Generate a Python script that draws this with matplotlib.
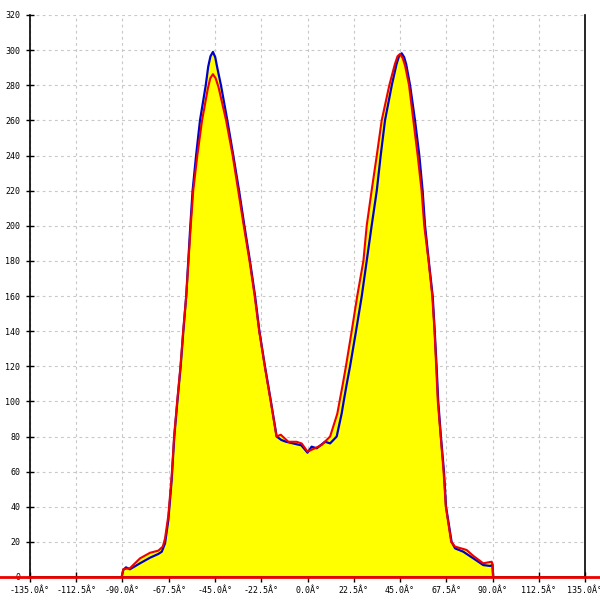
import numpy as np
import matplotlib
matplotlib.use("Agg")
import matplotlib.pyplot as plt

# blue curve (angle in degrees, value)
blue_x = [-90.4, -89.6, -88.3, -86.4, -81.5, -76.6, -72.6, -70.9, -69.3, -67.7, -66.1,
          -64.8, -63.3, -61.7, -60.4, -59.0, -58.0, -57.0, -55.9, -54.2, -52.3, -49.5,
          -48.3, -47.2, -46.0, -44.9, -43.9, -42.1, -39.0, -36.1, -33.3, -30.7, -28.0,
          -25.5, -23.4, -20.7, -17.8, -15.0, -12.7, -10.4, -8.5, -5.0, -3.0, 0.0, 2.0,
          4.5, 8.5, 11.0, 14.2, 16.6, 17.6, 19.1, 20.7, 23.6, 26.4, 28.8, 31.2, 33.7,
          35.6, 37.7, 41.0, 43.3, 44.5, 45.8, 47.0, 48.0, 49.9, 52.3, 54.4, 56.0, 57.2,
          59.0, 60.9, 61.9, 62.8, 63.6, 64.9, 66.4, 67.4, 70.1, 71.8, 75.8, 80.7, 85.5,
          88.8, 90.0, 90.3]
blue_y = [0, 4, 5.5, 4.4, 7.8, 11, 13.1, 14.4, 19.2, 32.5, 55,
          80, 100, 120, 140, 160, 180, 200, 220, 240, 260, 280,
          290.6, 296.5, 299, 296, 290, 280, 260, 240, 220, 200, 180,
          160, 140, 120, 100, 80, 78, 77, 76.5, 75.5, 75, 70.8, 74.2,
          73.3, 77, 76.1, 80, 93, 100, 110, 120, 140, 160, 180, 200, 220,
          240, 260, 280, 292, 296.5, 298.2, 296, 292, 280, 260, 240, 220, 200,
          180, 160, 140, 120, 100, 80, 60, 40, 20, 16.3, 14.4, 10.6, 6.8,
          6.3, 6.8, 0]

# red curve
red_x = [-90.4, -89.6, -86.4, -81.5, -76.6, -72.6, -70.4, -69.3, -67.7, -66.1,
         -64.9, -63.4, -61.8, -60.5, -59.0, -57.9, -56.8, -55.6, -53.6, -51.3, -48.5,
         -47.3, -46.0, -44.7, -43.3, -39.6, -36.4, -33.7, -31.0, -28.2, -25.7, -23.5,
         -20.8, -17.9, -15.1, -13.0, -9.3, -5.3, -2.8, 0.0, 3.6, 6.9, 11.0, 14.5, 15.6,
         17.2, 18.7, 21.5, 24.2, 27.2, 28.8, 31.2, 33.7, 36.1, 39.8, 42.5, 43.8, 45.0,
         46.3, 47.5, 49.4, 51.5, 53.6, 55.5, 56.8, 58.9, 60.7, 61.8, 62.6, 63.4, 64.8,
         66.2, 67.3, 69.9, 71.8, 77.4, 80.7, 85.5, 89.6, 90.0, 90.3]
red_y = [0, 4.5, 5, 10.6, 13.8, 15, 17.3, 22, 35, 57,
         80, 100, 120, 140, 160, 180, 200, 220, 240, 260, 278,
         284, 286.3, 284, 279, 260, 240, 220, 200, 180, 160, 140,
         120, 100, 80, 81, 77, 77, 76, 71.4, 73.3, 75.2, 80, 93, 100,
         110, 120, 140, 160, 180, 200, 220, 240, 260, 280, 292, 296.5, 297.8,
         295.5, 291, 280, 260, 240, 220, 200, 180, 160, 140, 120, 100, 80,
         60, 40, 20, 17.3, 15.4, 12, 7.8, 8.7, 7, 0]

x_ticks = [-135, -112.5, -90, -67.5, -45, -22.5, 0, 22.5, 45, 67.5, 90, 112.5, 135]
y_ticks = list(range(0, 321, 20))

fig = plt.figure(figsize=(6, 6), dpi=100)
ax = fig.add_axes([30 / 600, 23 / 600, 555 / 600, 562 / 600])

# yellow area under the higher of the two curves
xs = np.union1d(blue_x, red_x)
top = np.maximum(np.interp(xs, blue_x, blue_y), np.interp(xs, red_x, red_y))
ax.fill_between(xs, 0, top, color="#ffff00", linewidth=0, zorder=2)

ax.plot(blue_x, blue_y, color="#0000cc", linewidth=1.6, zorder=3,
        solid_joinstyle="round")
ax.plot(red_x, red_y, color="#ee0000", linewidth=1.5, zorder=4,
        solid_joinstyle="round")
# baseline of the red series runs across the whole picture
ax.plot([-0.055, 1.03], [0, 0], color="#ee0000", linewidth=2,
        transform=ax.get_yaxis_transform(), clip_on=False, zorder=5)

ax.set_xlim(-135, 135)
ax.set_ylim(0, 320)
ax.set_xticks(x_ticks)
ax.set_xticklabels([f"{v:.1f}Â°" for v in x_ticks])
ax.set_yticks(y_ticks)
ax.set_yticklabels([str(v) for v in y_ticks])

mono = "DejaVu Sans Mono"
for lab in ax.get_xticklabels() + ax.get_yticklabels():
    lab.set_fontfamily(mono)
    lab.set_fontsize(6)

ax.tick_params(axis="x", direction="inout", length=7, width=1, pad=3)
ax.tick_params(axis="y", direction="inout", length=6, width=1, pad=4)

ax.grid(True, color="#c8c8c8", linestyle=(0, (2.5, 3)), linewidth=0.8, zorder=1)
ax.set_axisbelow(True)

ax.spines["top"].set_visible(False)
for side in ["left", "right", "bottom"]:
    ax.spines[side].set_color("black")
    ax.spines[side].set_linewidth(1.2)

fig.savefig("out.png", dpi=100)
